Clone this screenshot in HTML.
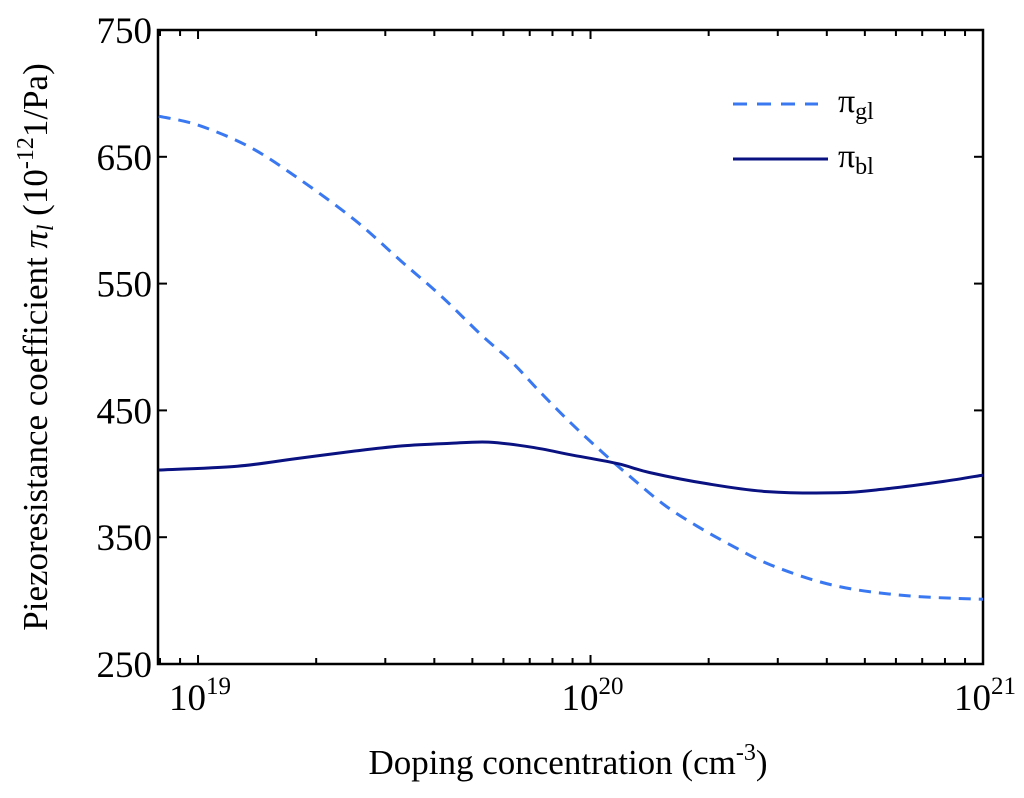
<!DOCTYPE html>
<html><head><meta charset="utf-8"><style>
body{margin:0;background:#fff}
svg text{font-family:"Liberation Serif",serif;fill:#000}
</style></head><body>
<svg id="chart" width="1024" height="793" xmlns="http://www.w3.org/2000/svg">
<g id="plot"></g>
</svg>
<script>
const yTicks=[250,350,450,550,650,750];
const xDecades=[19,20,21];
const glLogX=[18.9,19.0,19.13,19.26,19.4,19.52,19.62,19.72,19.8,19.87,19.95,20.03,20.1,20.19,20.27,20.35,20.46,20.62,20.8,21.0];
const glVals=[682,675,658,632,600,567,540,510,488,465,440,417,398,375,359,345,328,312,304,301];
const blLogX=[18.9,19.1,19.25,19.4,19.52,19.64,19.74,19.85,19.95,20.07,20.15,20.3,20.45,20.63,20.75,20.9,21.0];
const blVals=[403,406,412,418,422,424,425,421,415,408,401,392,386,385,388,394,399];
const L=158,R=983,T=30,B=664;
const xMin=18.898,xMax=21,yMin=250,yMax=750;
const sx=v=>L+(v-xMin)/(xMax-xMin)*(R-L);
const sy=v=>B-(v-yMin)/(yMax-yMin)*(B-T);
const NS="http://www.w3.org/2000/svg";
const g=document.getElementById('plot');
function mk(t,a,p){const e=document.createElementNS(NS,t);for(const k in a)e.setAttribute(k,a[k]);(p||g).appendChild(e);return e;}
const box=mk('rect',{x:L,y:T,width:R-L,height:B-T,fill:'none',stroke:'#000','stroke-width':2.5});


yTicks.forEach(v=>{
 const y=sy(v);
 const t1=mk('line',{x1:L,x2:L+9,y1:y,y2:y,stroke:'#000','stroke-width':2});
 
 
 const t2=mk('line',{x1:R,x2:R-9,y1:y,y2:y,stroke:'#000','stroke-width':2});
 
 
 const tx=mk('text',{x:L-6,y:y+13,'text-anchor':'end','font-size':37});
 tx.textContent=v;
 
 
});
for(let d=18;d<=20;d++){for(let m=1;m<=9;m++){
 const lv=d+Math.log10(m);
 if(lv<xMin-1e-6||lv>xMax)continue;
 const x=sx(lv),len=m===1?9:6;
 const a=mk('line',{x1:x,x2:x,y1:B,y2:B-len,stroke:'#000','stroke-width':2});
 
 
 const b=mk('line',{x1:x,x2:x,y1:T,y2:T+len,stroke:'#000','stroke-width':2});
 
 
}}
xDecades.forEach(d=>{
 const x=sx(d);
 const tx=mk('text',{x:x+2,y:B+46,'text-anchor':'middle','font-size':37});
 tx.innerHTML='10<tspan dy="-16" font-size="25">'+d+'</tspan>';
 
 
});
function line(xs,vs,attrs,name){
 const P=xs.map((x,i)=>[sx(x),sy(vs[i])]);
 let d='M'+P[0][0].toFixed(1)+','+P[0][1].toFixed(1);
 for(let i=0;i<P.length-1;i++){
  const p0=P[Math.max(0,i-1)],p1=P[i],p2=P[i+1],p3=P[Math.min(P.length-1,i+2)];
  const c1=[p1[0]+(p2[0]-p0[0])/6,p1[1]+(p2[1]-p0[1])/6];
  const c2=[p2[0]-(p3[0]-p1[0])/6,p2[1]-(p3[1]-p1[1])/6];
  d+=' C'+c1.map(v=>v.toFixed(1)).join(',')+' '+c2.map(v=>v.toFixed(1)).join(',')+' '+p2.map(v=>v.toFixed(1)).join(',');
 }
 const p=mk('path',Object.assign({d:d,fill:'none'},attrs));
 
 
}
line(glLogX,glVals,{stroke:'#3a78f2','stroke-width':3,'stroke-dasharray':'12,8'},'series-pi-gl');
line(blLogX,blVals,{stroke:'#0a1282','stroke-width':3},'series-pi-bl');
const l1=mk('line',{x1:733,x2:818,y1:104,y2:104,stroke:'#3a78f2','stroke-width':3,'stroke-dasharray':'14,10'});


const l2=mk('line',{x1:733,x2:828,y1:159,y2:159,stroke:'#0a1282','stroke-width':3});


const lt1=mk('text',{x:838,y:112,'font-size':34});
lt1.innerHTML='π<tspan dy="7" font-size="24">gl</tspan>';


const lt2=mk('text',{x:838,y:167,'font-size':34});
lt2.innerHTML='π<tspan dy="7" font-size="24">bl</tspan>';


const xt=mk('text',{x:568,y:774,'text-anchor':'middle','font-size':35});
xt.innerHTML='Doping concentration (cm<tspan dy="-14" font-size="24">-3</tspan><tspan dy="14">)</tspan>';


const yt=mk('text',{x:0,y:0,'text-anchor':'middle','font-size':35,transform:'translate(47,347) rotate(-90)'});
yt.innerHTML='Piezoresistance coefficient <tspan font-style="italic">π</tspan><tspan font-style="italic" dy="6" font-size="23">l</tspan><tspan dy="-6"> (10</tspan><tspan dy="-14" font-size="24">-12</tspan><tspan dy="14">1/Pa)</tspan>';


</script>
</body></html>
